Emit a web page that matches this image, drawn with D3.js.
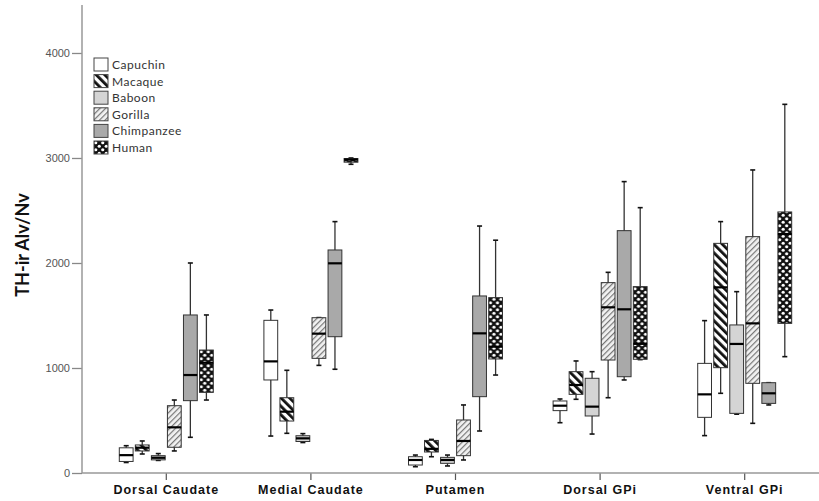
<!DOCTYPE html>
<html>
<head>
<meta charset="utf-8">
<script src="https://cdn.jsdelivr.net/npm/d3@7"></script>
<style>
  body { margin: 0; background: #fff; }
  svg { display: block; font-family: Lato, "Open Sans", sans-serif; }
</style>
</head>
<body>
<div class="visContainer"></div>
<script>
// Data: one array per species, one [min, q1, median, q3, max] per region.
const regions = ['Dorsal Caudate', 'Medial Caudate', 'Putamen', 'Dorsal GPi', 'Ventral GPi'];
const species = ['Capuchin', 'Macaque', 'Baboon', 'Gorilla', 'Chimpanzee', 'Human'];
const yTicks = [0, 1000, 2000, 3000, 4000];

const capuchin = [[100, 110, 170, 240, 260], [352, 886, 1063, 1454, 1552], [60, 76, 124, 155, 171], [479, 594, 641, 686, 705], [356, 530, 749, 1044, 1451]];
const macaque = [[181, 210, 241, 267, 305], [378, 495, 584, 717, 978], [155, 200, 230, 310, 320], [702, 749, 838, 965, 1067], [759, 1003, 1768, 2187, 2394]];
const baboon = [[120, 125, 145, 165, 185], [290, 300, 330, 355, 375], [67, 92, 124, 149, 171], [371, 543, 632, 902, 965], [560, 568, 1229, 1410, 1727]];
const gorilla = [[210, 245, 435, 641, 695], [1025, 1092, 1327, 1479, 1480], [124, 165, 305, 505, 648], [717, 1076, 1578, 1813, 1911], [473, 854, 1425, 2251, 2886]];
const chimpanzee = [[340, 689, 933, 1505, 2000], [988, 1298, 1997, 2124, 2394], [400, 727, 1330, 1686, 2352], [886, 917, 1559, 2308, 2775], [648, 663, 759, 860, 860]];
const human = [[695, 768, 1050, 1171, 1505], [2940, 2960, 2985, 2995, 3000], [933, 1086, 1203, 1670, 2217], [1080, 1083, 1230, 1775, 2527], [1108, 1425, 2276, 2486, 3511]];

const seriesData = [capuchin, macaque, baboon, gorilla, chimpanzee, human];

function boxChart() {
    // SVG constants.
    const width = 819;
    const height = 501;
    const axisX = 82;
    const axisY = 473;

    const svg = d3.select('.visContainer')
                  .append('svg')
                  .attr('width', width)
                  .attr('height', height);

    // Fill patterns.
    const defs = svg.append('defs');

    const macPat = defs.append('pattern')
                       .attr('id', 'pat-macaque')
                       .attr('patternUnits', 'userSpaceOnUse')
                       .attr('width', 6).attr('height', 6)
                       .attr('patternTransform', 'rotate(-45)');
    macPat.append('rect').attr('width', 6).attr('height', 6).attr('fill', '#fff');
    macPat.append('rect').attr('width', 2.8).attr('height', 6).attr('fill', '#111');

    const gorPat = defs.append('pattern')
                       .attr('id', 'pat-gorilla')
                       .attr('patternUnits', 'userSpaceOnUse')
                       .attr('width', 4).attr('height', 4)
                       .attr('patternTransform', 'rotate(45)');
    gorPat.append('rect').attr('width', 4).attr('height', 4).attr('fill', '#f2f2f2');
    gorPat.append('rect').attr('width', 1.2).attr('height', 4).attr('fill', '#777');

    const humPat = defs.append('pattern')
                       .attr('id', 'pat-human')
                       .attr('patternUnits', 'userSpaceOnUse')
                       .attr('width', 7).attr('height', 7);
    humPat.append('rect').attr('width', 7).attr('height', 7).attr('fill', '#111');
    humPat.append('circle').attr('cx', 1.75).attr('cy', 1.75).attr('r', 1.6).attr('fill', '#fff');
    humPat.append('circle').attr('cx', 5.25).attr('cy', 5.25).attr('r', 1.6).attr('fill', '#fff');

    const fills = {
        'Capuchin': '#ffffff',
        'Macaque': 'url(#pat-macaque)',
        'Baboon': '#d4d4d4',
        'Gorilla': 'url(#pat-gorilla)',
        'Chimpanzee': '#a9a9a9',
        'Human': 'url(#pat-human)'
    };

    // Scales.
    const yScale = d3.scaleLinear()
                     .domain([0, 4457])
                     .range([axisY, 5]);

    const xScale = d3.scaleBand()
                     .domain(regions)
                     .range([94, 817]);

    const innerWidth = 94;
    const xInner = d3.scaleBand()
                     .domain(species)
                     .range([(xScale.bandwidth() - innerWidth) / 2, (xScale.bandwidth() + innerWidth) / 2])
                     .paddingInner(0.14);

    // Axes.
    const yAxis = d3.axisLeft(yScale)
                    .tickValues(yTicks)
                    .tickSize(10)
                    .tickPadding(2)
                    .tickFormat(d3.format('d'));

    const yG = svg.append('g')
                  .attr('transform', 'translate(' + axisX + ',0)')
                  .call(yAxis);
    yG.select('.domain').remove();
    yG.selectAll('line').attr('stroke', '#888').attr('stroke-width', 1.3);
    yG.selectAll('text').attr('fill', '#555').style('font-size', '11px');

    svg.append('line')
       .attr('x1', axisX).attr('x2', axisX)
       .attr('y1', yScale(4457)).attr('y2', axisY)
       .attr('stroke', '#999').attr('stroke-width', 1.5);

    const xAxis = d3.axisBottom(xScale)
                    .tickSize(7)
                    .tickPadding(5);

    const xG = svg.append('g')
                  .attr('transform', 'translate(0,' + axisY + ')')
                  .call(xAxis);
    xG.select('.domain').remove();
    xG.selectAll('line').attr('stroke', '#555').attr('stroke-width', 1.2);
    xG.selectAll('text')
      .attr('fill', '#111')
      .style('font-size', '12.5px')
      .style('font-weight', 'bold')
      .style('letter-spacing', '1px');

    svg.append('line')
       .attr('x1', axisX).attr('x2', width)
       .attr('y1', axisY).attr('y2', axisY)
       .attr('stroke', '#999').attr('stroke-width', 1.5);

    // Y label.
    svg.append('text')
       .attr('transform', 'translate(29,' + 245 + ') rotate(-90)')
       .attr('text-anchor', 'middle')
       .style('font-size', '18px')
       .style('font-weight', 'bold')
       .attr('fill', '#111')
       .text('TH-ir Alv/Nv');

    // Boxes.
    const boxes = [];
    regions.forEach((r, ri) => {
        species.forEach((s, si) => {
            const v = seriesData[si][ri];
            boxes.push({region: r, species: s, min: v[0], q1: v[1], med: v[2], q3: v[3], max: v[4]});
        });
    });

    const bw = xInner.bandwidth();
    const capW = 5;
    const stroke = '#333';

    const cell = svg.selectAll('g.box')
                    .data(boxes)
                    .enter()
                    .append('g')
                    .attr('class', 'box')
                    .attr('transform', (d) => 'translate(' + (xScale(d.region) + xInner(d.species)) + ',0)');

    cell.append('line')
        .attr('x1', bw / 2).attr('x2', bw / 2)
        .attr('y1', (d) => yScale(d.max))
        .attr('y2', (d) => yScale(d.min))
        .attr('stroke', stroke).attr('stroke-width', 1.3);

    cell.append('line')
        .attr('x1', bw / 2 - capW / 2).attr('x2', bw / 2 + capW / 2)
        .attr('y1', (d) => yScale(d.max)).attr('y2', (d) => yScale(d.max))
        .attr('stroke', '#111').attr('stroke-width', 1.6);

    cell.append('line')
        .attr('x1', bw / 2 - capW / 2).attr('x2', bw / 2 + capW / 2)
        .attr('y1', (d) => yScale(d.min)).attr('y2', (d) => yScale(d.min))
        .attr('stroke', '#111').attr('stroke-width', 1.6);

    cell.append('rect')
        .attr('x', 0)
        .attr('width', bw)
        .attr('y', (d) => yScale(d.q3))
        .attr('height', (d) => Math.max(1, yScale(d.q1) - yScale(d.q3)))
        .attr('fill', (d) => fills[d.species])
        .attr('stroke', stroke).attr('stroke-width', 1);

    cell.append('line')
        .attr('x1', 0).attr('x2', bw)
        .attr('y1', (d) => yScale(d.med)).attr('y2', (d) => yScale(d.med))
        .attr('stroke', '#000').attr('stroke-width', 2.2);

    // Legend.
    const legend = svg.append('g')
                      .attr('transform', 'translate(94,58)');
    const item = legend.selectAll('g')
                       .data(species)
                       .enter()
                       .append('g')
                       .attr('transform', (d, i) => 'translate(0,' + (i * 16.6) + ')');
    item.append('rect')
        .attr('width', 14).attr('height', 13)
        .attr('fill', (d) => fills[d])
        .attr('stroke', '#444').attr('stroke-width', 1);
    item.append('text')
        .attr('x', 18)
        .attr('y', 11)
        .attr('fill', '#333')
        .style('font-size', '12px')
        .style('letter-spacing', '0.5px')
        .text((d) => d);
}

boxChart();
</script>
</body>
</html>
